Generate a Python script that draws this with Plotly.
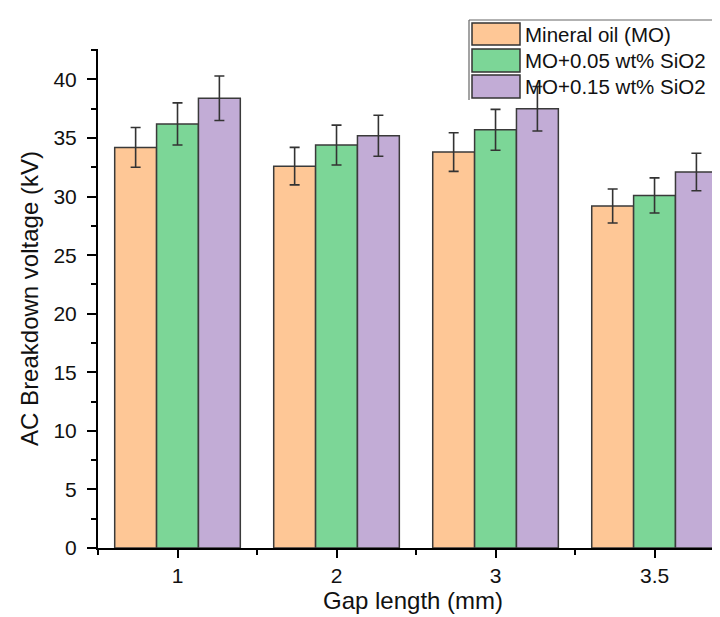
import plotly.graph_objects as go

categories = ["1", "2", "3", "3.5"]
series_names = ["Mineral oil (MO)", "MO+0.05 wt% SiO2", "MO+0.15 wt% SiO2"]
mo_values = [34.2, 32.6, 33.8, 29.2]
mo_errors = [1.7, 1.6, 1.65, 1.45]
mo005_values = [36.2, 34.4, 35.7, 30.1]
mo005_errors = [1.8, 1.7, 1.75, 1.5]
mo015_values = [38.4, 35.2, 37.5, 32.1]
mo015_errors = [1.9, 1.75, 1.9, 1.6]
y_ticks = [0, 5, 10, 15, 20, 25, 30, 35, 40]

colors = ["#FEC796", "#7CD697", "#C2ACD6"]
positions = list(range(1, len(categories) + 1))

FONT = "Liberation Sans, Arial, sans-serif"

fig = go.Figure()
for name, vals, errs, col in zip(series_names,
                                 [mo_values, mo005_values, mo015_values],
                                 [mo_errors, mo005_errors, mo015_errors],
                                 colors):
    fig.add_trace(go.Bar(
        x=positions, y=vals, name=name,
        marker=dict(color=col, line=dict(color="#3a3a3a", width=1.5)),
        error_y=dict(type="data", array=errs, visible=True,
                     color="#333333", thickness=1.6, width=5),
        showlegend=False,
    ))

fig.update_layout(
    width=720, height=617,
    margin=dict(l=90, r=0, t=41, b=77),
    paper_bgcolor="white", plot_bgcolor="white",
    barmode="group", bargap=0.21, bargroupgap=0,
    font=dict(family=FONT, color="#111111"),
    showlegend=False,
)

fig.update_xaxes(
    range=[0.5, 4.462], tickvals=positions, ticktext=categories,
    showline=True, linecolor="black", linewidth=2,
    ticks="outside", ticklen=8, tickwidth=2, tickcolor="black",
    minor=dict(tickvals=[0.5, 1.5, 2.5, 3.5], ticks="outside", ticklen=5,
               tickwidth=2, tickcolor="black"),
    tickfont=dict(size=21, family=FONT, color="#111"),
    showgrid=False, zeroline=False,
    title=dict(text="Gap length (mm)", font=dict(size=24, family=FONT, color="#111"), standoff=6),
)
fig.update_yaxes(
    range=[0, 42.6], tickvals=y_ticks,
    showline=True, linecolor="black", linewidth=2,
    ticks="outside", ticklen=9, tickwidth=2, tickcolor="black",
    minor=dict(dtick=2.5, tick0=0, ticks="outside", ticklen=5,
               tickwidth=2, tickcolor="black"),
    tickfont=dict(size=21, family=FONT, color="#111"),
    ticklabelstandoff=6,
    showgrid=False, zeroline=False,
    title=dict(text="AC Breakdown voltage (kV)", font=dict(size=24, family=FONT, color="#111"), standoff=8),
)

# manual legend with large swatches (paper coordinates from pixel layout)
W, H, L, T = 630.0, 499.0, 90.0, 41.0
def px(x):
    return (x - L) / W
def py(y):
    return 1 - (y - T) / H

box_l, box_r, box_t, box_b = 461, 713, 12, 92
for (x0, y0, x1, y1) in [(box_l, box_t, box_r, box_t), (box_l, box_t, box_l, box_b), (box_r, box_t, box_r, box_b)]:
    fig.add_shape(type="line", xref="paper", yref="paper",
                  x0=px(x0), y0=py(y0), x1=px(x1), y1=py(y1),
                  line=dict(color="#666666", width=1.2))

rows = [(15, 37), (41, 64), (67, 90)]
for (top, bot), name, col in zip(rows, series_names, colors):
    fig.add_shape(type="rect", xref="paper", yref="paper",
                  x0=px(464), x1=px(512), y0=py(bot), y1=py(top),
                  fillcolor=col, line=dict(color="#333333", width=1.5))
    fig.add_annotation(xref="paper", yref="paper", x=px(515), y=py((top + bot) / 2),
                       text=name, showarrow=False, xanchor="left", yanchor="middle",
                       font=dict(size=20.5, family=FONT, color="#111"))

fig.write_html("out.html")
